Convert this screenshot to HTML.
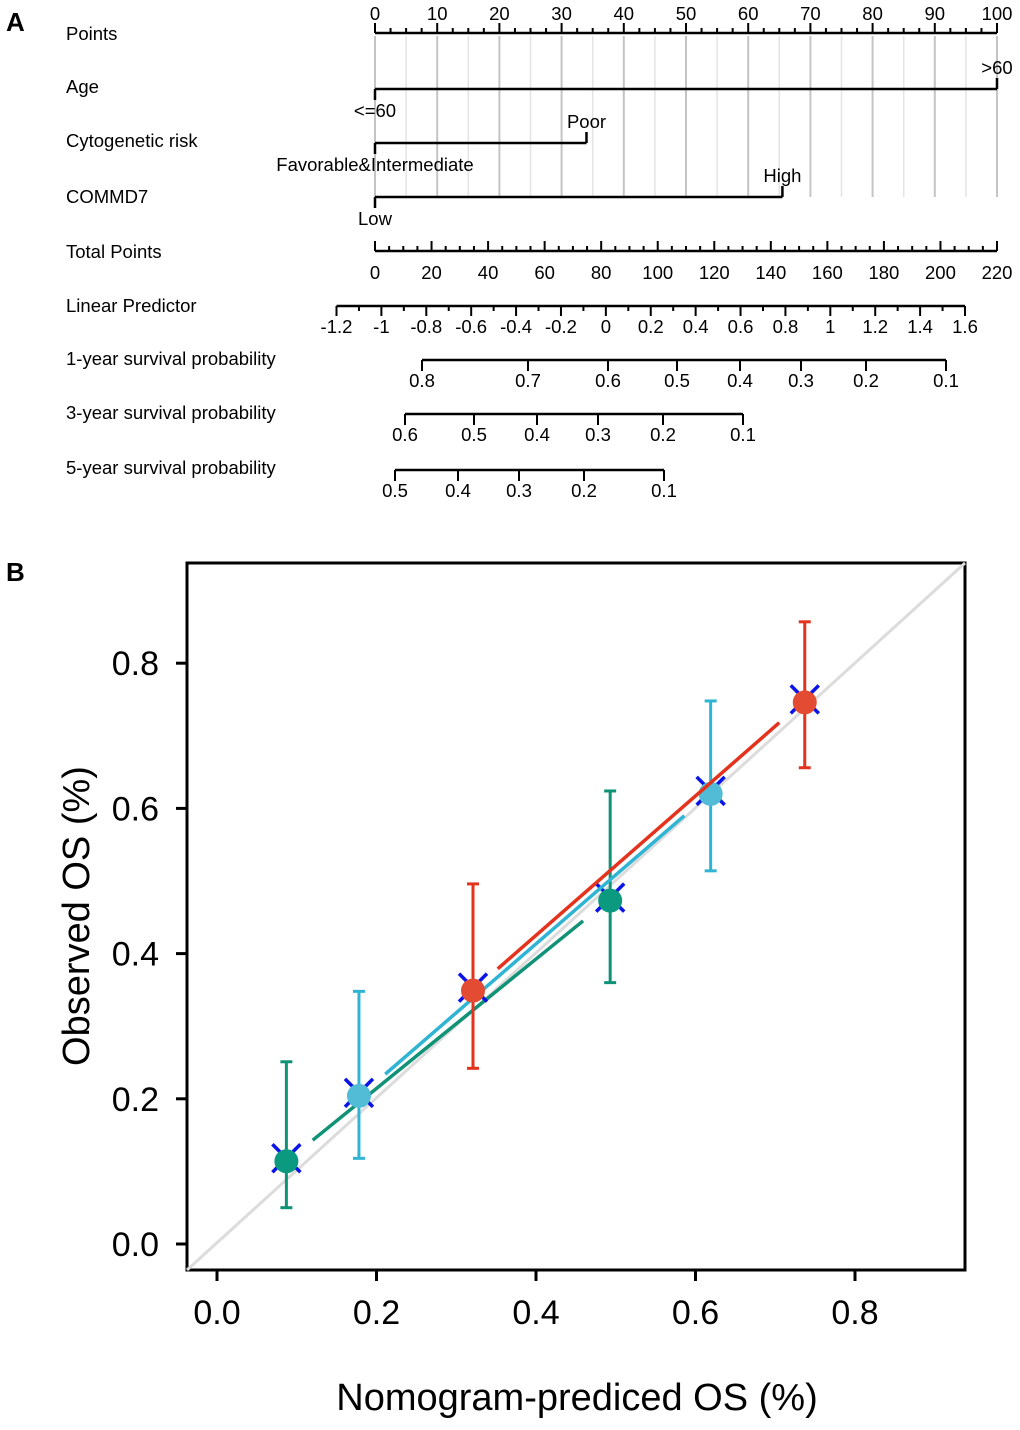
<!DOCTYPE html>
<html><head><meta charset="utf-8"><style>
body{margin:0;background:#fff}
svg text{font-family:"Liberation Sans",sans-serif}
</style></head><body>
<svg id="s" width="1020" height="1425" viewBox="0 0 1020 1425" xmlns="http://www.w3.org/2000/svg">
<text x="6" y="31" font-size="26" font-weight="bold">A</text>
<text x="6" y="581" font-size="26" font-weight="bold">B</text>
<g id="nomo"></g>
<g id="cal"></g>
</svg>
<script>
// ---------- Nomogram data ----------
const rowNames = ["Points","Age","Cytogenetic risk","COMMD7","Total Points","Linear Predictor","1-year survival probability","3-year survival probability","5-year survival probability"];
const rowY = [33,86,140,196,251,305,358,412,467];
const ageLevels = ["<=60",">60"]; const agePoints = [0,100];
const cytoLevels = ["Favorable&Intermediate","Poor"]; const cytoPoints = [0,34];
const commdLevels = ["Low","High"]; const commdPoints = [0,65.5];
const lpTicks = [-1.2,-1,-0.8,-0.6,-0.4,-0.2,0,0.2,0.4,0.6,0.8,1,1.2,1.4,1.6];
const lpLabels = ["-1.2","-1","-0.8","-0.6","-0.4","-0.2","0","0.2","0.4","0.6","0.8","1","1.2","1.4","1.6"];
const surv1Labels = ["0.8","0.7","0.6","0.5","0.4","0.3","0.2","0.1"];
const surv1Pos = [422,528,608,677,740,801,866,946];
const surv3Labels = ["0.6","0.5","0.4","0.3","0.2","0.1"];
const surv3Pos = [405,474,537,598,663,743];
const surv5Labels = ["0.5","0.4","0.3","0.2","0.1"];
const surv5Pos = [395,458,519,584,664];

// ---------- Calibration data ----------
const series1Pred = [0.321,0.737]; const series1Obs = [0.349,0.746]; const series1Lo=[0.242,0.656]; const series1Hi=[0.496,0.857];
const series3Pred = [0.178,0.619]; const series3Obs = [0.204,0.620]; const series3Lo=[0.118,0.514]; const series3Hi=[0.348,0.748];
const series5Pred = [0.087,0.493]; const series5Obs = [0.114,0.473]; const series5Lo=[0.05,0.360]; const series5Hi=[0.251,0.624];
const fit1 = [[0.352,0.379],[0.705,0.718]];
const fit3 = [[0.211,0.234],[0.586,0.590]];
const fit5 = [[0.120,0.143],[0.459,0.445]];
const calTicks = [0,0.2,0.4,0.6,0.8];
const calLabels = ["0.0","0.2","0.4","0.6","0.8"];

const NS="http://www.w3.org/2000/svg";
function mk(parent,tag,attrs,text){const e=document.createElementNS(NS,tag);for(const k in attrs)e.setAttribute(k,attrs[k]);if(text!==undefined)e.textContent=text;parent.appendChild(e);return e;}
const nomo=document.getElementById('nomo');
const px = p => 375 + p*6.22;
const tp = t => 375 + t*(622/220);
const lp = v => 336.5 + (v+1.2)*(628.5/2.8);
const BL="#000";
const FS=18.5;

for(let p=0;p<=100;p+=5){
  const l=mk(nomo,'line',{x1:px(p),x2:px(p),y1:36,y2:197,stroke:p%10===0?'#c4c4c4':'#e4e4e4','stroke-width':p%10===0?2:1.5});
  
  
}
rowNames.forEach((n,i)=>{
  const t=mk(nomo,'text',{x:66,y:rowY[i]+7,'font-size':FS},n);
  
  
});
mk(nomo,'line',{x1:px(0),x2:px(100),y1:33,y2:33,stroke:BL,'stroke-width':2.5});
for(let p=0;p<=100;p+=2.5){const maj=p%10===0;mk(nomo,'line',{x1:px(p),x2:px(p),y1:maj?23:28,y2:33,stroke:BL,'stroke-width':2});
  if(maj){const t=mk(nomo,'text',{x:px(p),y:20,'font-size':FS,'text-anchor':'middle'},String(p));
    
    }}
function factor(y,levels,pts,name){
  const x0=px(pts[0]),x1=px(pts[1]);
  mk(nomo,'line',{x1:x0,x2:x1,y1:y,y2:y,stroke:BL,'stroke-width':2.5});
  mk(nomo,'line',{x1:x0,x2:x0,y1:y,y2:y+11,stroke:BL,'stroke-width':2.5});
  mk(nomo,'line',{x1:x1,x2:x1,y1:y-11,y2:y,stroke:BL,'stroke-width':2.5});
  const a=mk(nomo,'text',{x:x0,y:y+28,'font-size':FS,'text-anchor':'middle'},levels[0]);
  
  
  const b=mk(nomo,'text',{x:x1,y:y-15,'font-size':FS,'text-anchor':'middle'},levels[1]);
  
  
}
factor(89,ageLevels,agePoints,'age');
factor(143,cytoLevels,cytoPoints,'cytogenetic');
factor(197,commdLevels,commdPoints,'commd7');
mk(nomo,'line',{x1:tp(0),x2:tp(220),y1:251,y2:251,stroke:BL,'stroke-width':2.5});
for(let t=0;t<=220;t+=5){const maj=t%20===0;mk(nomo,'line',{x1:tp(t),x2:tp(t),y1:maj?241:246,y2:251,stroke:BL,'stroke-width':2});
  if(maj){const e=mk(nomo,'text',{x:tp(t),y:279,'font-size':FS,'text-anchor':'middle'},String(t));
    
    }}
mk(nomo,'line',{x1:lp(-1.2),x2:lp(1.6),y1:306,y2:306,stroke:BL,'stroke-width':2.5});
for(let i=0;i<=28;i++){const v=-1.2+i*0.1;const maj=i%2===0;mk(nomo,'line',{x1:lp(v),x2:lp(v),y1:306,y2:maj?316:311,stroke:BL,'stroke-width':2});}
lpTicks.forEach((v,i)=>{const e=mk(nomo,'text',{x:lp(v),y:333,'font-size':FS,'text-anchor':'middle'},lpLabels[i]);
  
  });
function surv(y,pos,labels,name){
  mk(nomo,'line',{x1:pos[0],x2:pos[pos.length-1],y1:y,y2:y,stroke:BL,'stroke-width':2.5});
  pos.forEach((x,i)=>{mk(nomo,'line',{x1:x,x2:x,y1:y,y2:y+11,stroke:BL,'stroke-width':2});
    const e=mk(nomo,'text',{x:x,y:y+27,'font-size':FS,'text-anchor':'middle'},labels[i]);
    
    });
}
surv(360,surv1Pos,surv1Labels,'surv1');
surv(414,surv3Pos,surv3Labels,'surv3');
surv(470,surv5Pos,surv5Labels,'surv5');

// ---------- calibration ----------
const cal=document.getElementById('cal');
const cx = v => 217 + v*797.5;
const cy = v => 1244 - v*726;
const box=mk(cal,'rect',{x:187,y:563,width:778,height:707,fill:'none',stroke:'#000','stroke-width':3});


mk(cal,'line',{x1:187,y1:1270,x2:965,y2:563,stroke:'#dcdcdc','stroke-width':3});
calTicks.forEach((v,i)=>{
  mk(cal,'line',{x1:cx(v),x2:cx(v),y1:1270,y2:1281,stroke:'#000','stroke-width':3});
  const a=mk(cal,'text',{x:cx(v),y:1324,'font-size':34,'text-anchor':'middle'},calLabels[i]);
  
  
  mk(cal,'line',{x1:176,x2:187,y1:cy(v),y2:cy(v),stroke:'#000','stroke-width':3});
  const b=mk(cal,'text',{x:159,y:cy(v)+12,'font-size':34,'text-anchor':'end'},calLabels[i]);
  
  
});
const xt=mk(cal,'text',{x:577,y:1410,'font-size':38,'text-anchor':'middle'},'Nomogram-prediced OS (%)');


const yt=mk(cal,'text',{x:89,y:916,'font-size':38,'text-anchor':'middle',transform:'rotate(-90 89 916)'},'Observed OS (%)');



function series(pred,obs,lo,hi,fit,color,ptColor,name){
  mk(cal,'line',{x1:cx(fit[0][0]),y1:cy(fit[0][1]),x2:cx(fit[1][0]),y2:cy(fit[1][1]),stroke:color,'stroke-width':3.5});
  pred.forEach((p,i)=>{
    const x=cx(p);
    mk(cal,'line',{x1:x,x2:x,y1:cy(lo[i]),y2:cy(hi[i]),stroke:color,'stroke-width':3});
    mk(cal,'line',{x1:x-6,x2:x+6,y1:cy(lo[i]),y2:cy(lo[i]),stroke:color,'stroke-width':3});
    mk(cal,'line',{x1:x-6,x2:x+6,y1:cy(hi[i]),y2:cy(hi[i]),stroke:color,'stroke-width':3});
    const y=cy(obs[i])-3;
    mk(cal,'path',{d:`M${x-14} ${y-14}L${x+14} ${y+14}M${x+14} ${y-14}L${x-14} ${y+14}`,stroke:'#0a14e6','stroke-width':3.5,fill:'none'});
    const c=mk(cal,'circle',{cx:x,cy:cy(obs[i]),r:12,fill:ptColor});
    
    
  });
}
series(series5Pred,series5Obs,series5Lo,series5Hi,fit5,'#0f9276','#0b9a7f','five-year');
series(series3Pred,series3Obs,series3Lo,series3Hi,fit3,'#30b4d4','#52bbd6','three-year');
series(series1Pred,series1Obs,series1Lo,series1Hi,fit1,'#e5321c','#e34b33','one-year');
</script>
</body></html>
